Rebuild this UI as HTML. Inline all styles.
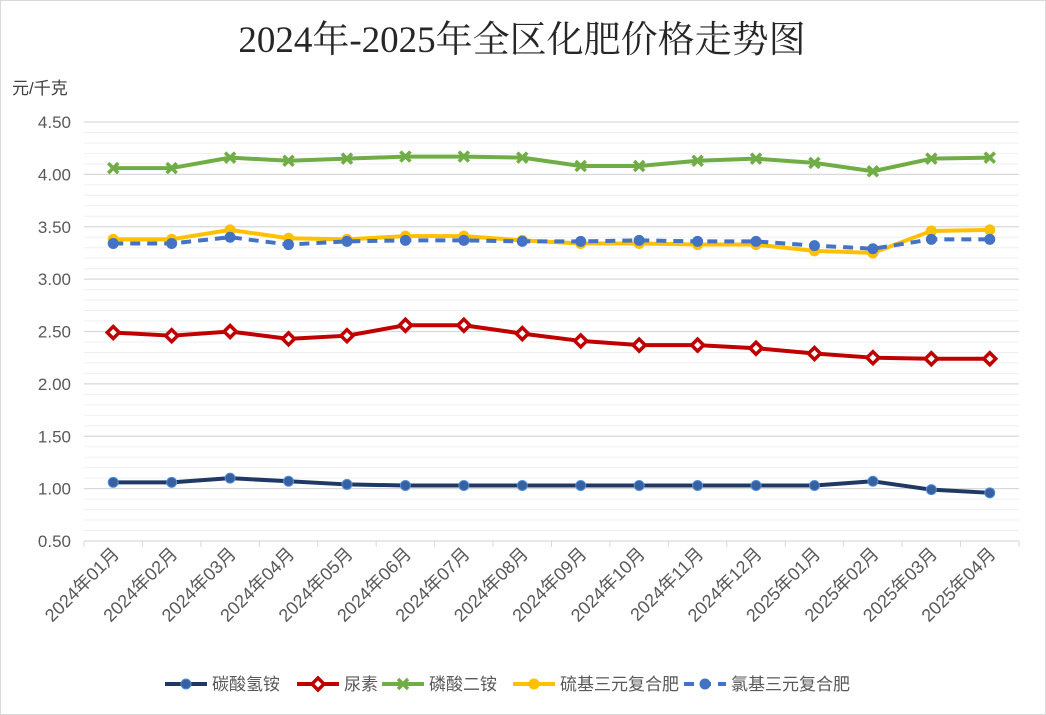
<!DOCTYPE html>
<html><head><meta charset="utf-8"><style>
body{margin:0;background:#fff}
svg{display:block;font-family:"Liberation Sans","Noto Sans CJK SC",sans-serif}
</style></head><body>
<svg id="c" width="1046" height="715">
<rect x="0.5" y="0.5" width="1045" height="714" fill="#fff" stroke="#d9d9d9"/>
<text x="522" y="52" text-anchor="middle" font-size="37" fill="#262626" font-family="Liberation Serif,Noto Serif CJK SC,serif">2024年-2025年全区化肥价格走势图</text>
<text x="12" y="94" font-size="17" fill="#404040">元/千克</text>
<g id="grid"></g><g id="axes"></g><g id="series"></g><g id="legend"></g>
</svg>
<script>
const categories=["2024年01月","2024年02月","2024年03月","2024年04月","2024年05月","2024年06月","2024年07月","2024年08月","2024年09月","2024年10月","2024年11月","2024年12月","2025年01月","2025年02月","2025年03月","2025年04月"];
const yTicks=["0.50","1.00","1.50","2.00","2.50","3.00","3.50","4.00","4.50"];
const tanValues=[1.06,1.06,1.10,1.07,1.04,1.03,1.03,1.03,1.03,1.03,1.03,1.03,1.03,1.07,0.99,0.96];
const ureaValues=[2.49,2.46,2.50,2.43,2.46,2.56,2.56,2.48,2.41,2.37,2.37,2.34,2.29,2.25,2.24,2.24];
const dapValues=[4.06,4.06,4.16,4.13,4.15,4.17,4.17,4.16,4.08,4.08,4.13,4.15,4.11,4.03,4.15,4.16];
const sulfValues=[3.38,3.38,3.47,3.39,3.38,3.41,3.41,3.37,3.34,3.34,3.33,3.33,3.27,3.25,3.46,3.47];
const chlorValues=[3.34,3.34,3.40,3.33,3.36,3.37,3.37,3.36,3.36,3.37,3.36,3.36,3.32,3.29,3.38,3.38];
const NS="http://www.w3.org/2000/svg";
const L=84,R=1019,T=122,B=541,yMin=0.5,yMax=4.5;
const bw=(R-L)/categories.length;
const x=i=>L+bw*(i+0.5);
const y=v=>B-(v-yMin)/(yMax-yMin)*(B-T);
function mk(p,t,a){const e=document.createElementNS(NS,t);for(const k in a)e.setAttribute(k,a[k]);p.appendChild(e);return e;}
const grid=document.getElementById('grid'),axes=document.getElementById('axes'),ser=document.getElementById('series'),leg=document.getElementById('legend');
for(let k=0;k<=40;k++){const v=yMin+k*0.1;if(k%5===0)continue;
 const g=mk(grid,'line',{x1:L,x2:R,y1:y(v),y2:y(v),stroke:'#efefef','stroke-width':1});
 
 }
yTicks.forEach(t=>{const v=parseFloat(t);
 if(v>yMin){const g=mk(grid,'line',{x1:L,x2:R,y1:y(v),y2:y(v),stroke:'#d9d9d9','stroke-width':1.3});
 
 }
 const tx=mk(axes,'text',{x:71,y:y(v)+6,'text-anchor':'end','font-size':17,fill:'#595959'});tx.textContent=t;
 
 });
const ax=mk(axes,'line',{x1:L,x2:R,y1:B,y2:B,stroke:'#d9d9d9','stroke-width':1.3});


for(let i=0;i<=categories.length;i++){const tk=mk(axes,'line',{x1:L+bw*i,x2:L+bw*i,y1:B,y2:B+6,stroke:'#d9d9d9'});
 
 }
categories.forEach((c,i)=>{const tx=mk(axes,'text',{transform:`translate(${x(i)+7},${B+14}) rotate(-45)`,'text-anchor':'end','font-size':18,fill:'#595959'});tx.textContent=c;
 
 });
function marker(p,type,cx,cy,col){
 if(type==='circle'){return mk(p,'circle',{cx,cy,r:5,fill:col==='#1f3864'?'#3a5fa0':col,stroke:col==='#1f3864'?'#4a90d9':col,'stroke-width':1});}
 if(type==='diamond'){return mk(p,'path',{d:`M${cx} ${cy-6}L${cx+6} ${cy}L${cx} ${cy+6}L${cx-6} ${cy}Z`,fill:'#fff',stroke:col,'stroke-width':3.5});}
 if(type==='x'){return mk(p,'path',{d:`M${cx-5} ${cy-5}L${cx+5} ${cy+5}M${cx+5} ${cy-5}L${cx-5} ${cy+5}`,stroke:col,'stroke-width':3.5,fill:'none'});}
}
const seriesList=[
 {name:'碳酸氢铵',vals:tanValues,col:'#1f3864',m:'circle',dash:null,id:'tan'},
 {name:'尿素',vals:ureaValues,col:'#c00000',m:'diamond',dash:null,id:'urea'},
 {name:'磷酸二铵',vals:dapValues,col:'#70ad47',m:'x',dash:null,id:'dap'},
 {name:'硫基三元复合肥',vals:sulfValues,col:'#ffc000',m:'circle',dash:null,id:'sulfur'},
 {name:'氯基三元复合肥',vals:chlorValues,col:'#4472c4',m:'circle',dash:'10 7',id:'chlorine'}];
seriesList.forEach(s=>{
 const g=mk(ser,'g',{});
 
 
 const pl=mk(g,'polyline',{points:s.vals.map((v,i)=>x(i)+','+y(v)).join(' '),fill:'none',stroke:s.col,'stroke-width':4,'stroke-linejoin':'round'});
 if(s.dash)pl.setAttribute('stroke-dasharray',s.dash);
 
 
 s.vals.forEach((v,i)=>{const m=marker(g,s.m,x(i),y(v),s.col);
  
  });
});
const legX=[165,297,382,513,684];
seriesList.forEach((s,k)=>{
 const g=mk(leg,'g',{});
 
 
 const lx=legX[k],ly=684;
 const ln=mk(g,'line',{x1:lx,x2:lx+42,y1:ly,y2:ly,stroke:s.col,'stroke-width':4});
 if(s.dash)ln.setAttribute('stroke-dasharray','10 7');
 marker(g,s.m,lx+21,ly,s.col);
 const t=mk(g,'text',{x:lx+47,y:ly+6,'font-size':17,fill:'#595959'});t.textContent=s.name;
});
</script>
</body></html>
